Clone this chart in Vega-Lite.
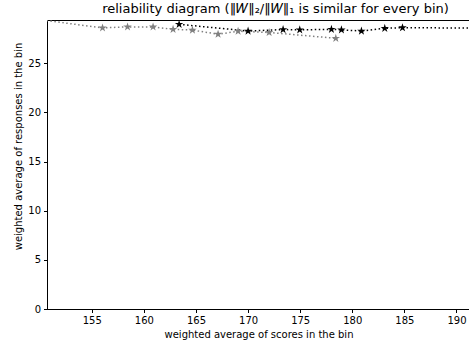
{
  "$schema": "https://vega.github.io/schema/vega-lite/v6.json",
  "autosize": "none",
  "width": 423,
  "height": 289,
  "padding": {"left": 47, "top": 20, "right": 0, "bottom": 39},
  "background": "white",
  "config": {
    "font": "DejaVu Sans",
    "view": {"stroke": "#000", "strokeWidth": 1},
    "axis": {"grid": false, "domainColor": "#000", "tickColor": "#000", "labelColor": "#000", "titleColor": "#000", "labelFontSize": 10, "titleFontSize": 10, "titleFontWeight": "normal", "tickSize": 3.5, "labelPadding": 3}
  },
  "title": {"text": "reliability diagram (‖𝑊‖₂/‖𝑊‖₁ is similar for every bin)", "fontSize": 13, "fontWeight": "normal", "color": "#000", "offset": 4, "dx": 17},
  "data": {"values": [
    {"series": "gray", "x": 149.5, "y": 29.5},
    {"series": "gray", "x": 156.03, "y": 28.6},
    {"series": "gray", "x": 158.43, "y": 28.7},
    {"series": "gray", "x": 160.88, "y": 28.7},
    {"series": "gray", "x": 162.8, "y": 28.45},
    {"series": "gray", "x": 164.66, "y": 28.38},
    {"series": "gray", "x": 167.12, "y": 27.95},
    {"series": "gray", "x": 169.04, "y": 28.26},
    {"series": "gray", "x": 172.02, "y": 28.13},
    {"series": "gray", "x": 178.42, "y": 27.54},
    {"series": "black", "x": 163.38, "y": 28.96},
    {"series": "black", "x": 170.0, "y": 28.28},
    {"series": "black", "x": 173.36, "y": 28.43},
    {"series": "black", "x": 174.96, "y": 28.4},
    {"series": "black", "x": 178.0, "y": 28.45},
    {"series": "black", "x": 178.96, "y": 28.4},
    {"series": "black", "x": 180.88, "y": 28.28},
    {"series": "black", "x": 183.12, "y": 28.56},
    {"series": "black", "x": 184.82, "y": 28.62},
    {"series": "black", "x": 193.0, "y": 28.57}
  ]},
  "encoding": {
    "x": {"field": "x", "type": "quantitative", "scale": {"domain": [150.7, 191.3], "nice": false, "zero": false}, "axis": {"values": [155, 160, 165, 170, 175, 180, 185, 190], "title": "weighted average of scores in the bin", "titlePadding": 4}},
    "y": {"field": "y", "type": "quantitative", "scale": {"domain": [0, 29.4], "nice": false}, "axis": {"values": [0, 5, 10, 15, 20, 25], "title": "weighted average of responses in the bin", "titleX": -34, "titleY": 126, "titleBaseline": "top", "titleAlign": "center", "titleAngle": -90}},
    "color": {"field": "series", "type": "nominal", "scale": {"domain": ["gray", "black"], "range": ["#808080", "#000000"]}, "legend": null}
  },
  "layer": [
    {"mark": {"type": "line", "clip": true, "strokeWidth": 1.5, "strokeDash": [1.5, 2.5]}, "encoding": {"detail": {"field": "series"}}},
    {"mark": {"type": "point", "clip": true, "filled": true, "opacity": 1, "size": 80, "strokeWidth": 0, "shape": "M0,-1L0.2245,-0.309L0.951,-0.309L0.363,0.118L0.588,0.809L0,0.382L-0.588,0.809L-0.363,0.118L-0.951,-0.309L-0.2245,-0.309Z"}}
  ]
}
